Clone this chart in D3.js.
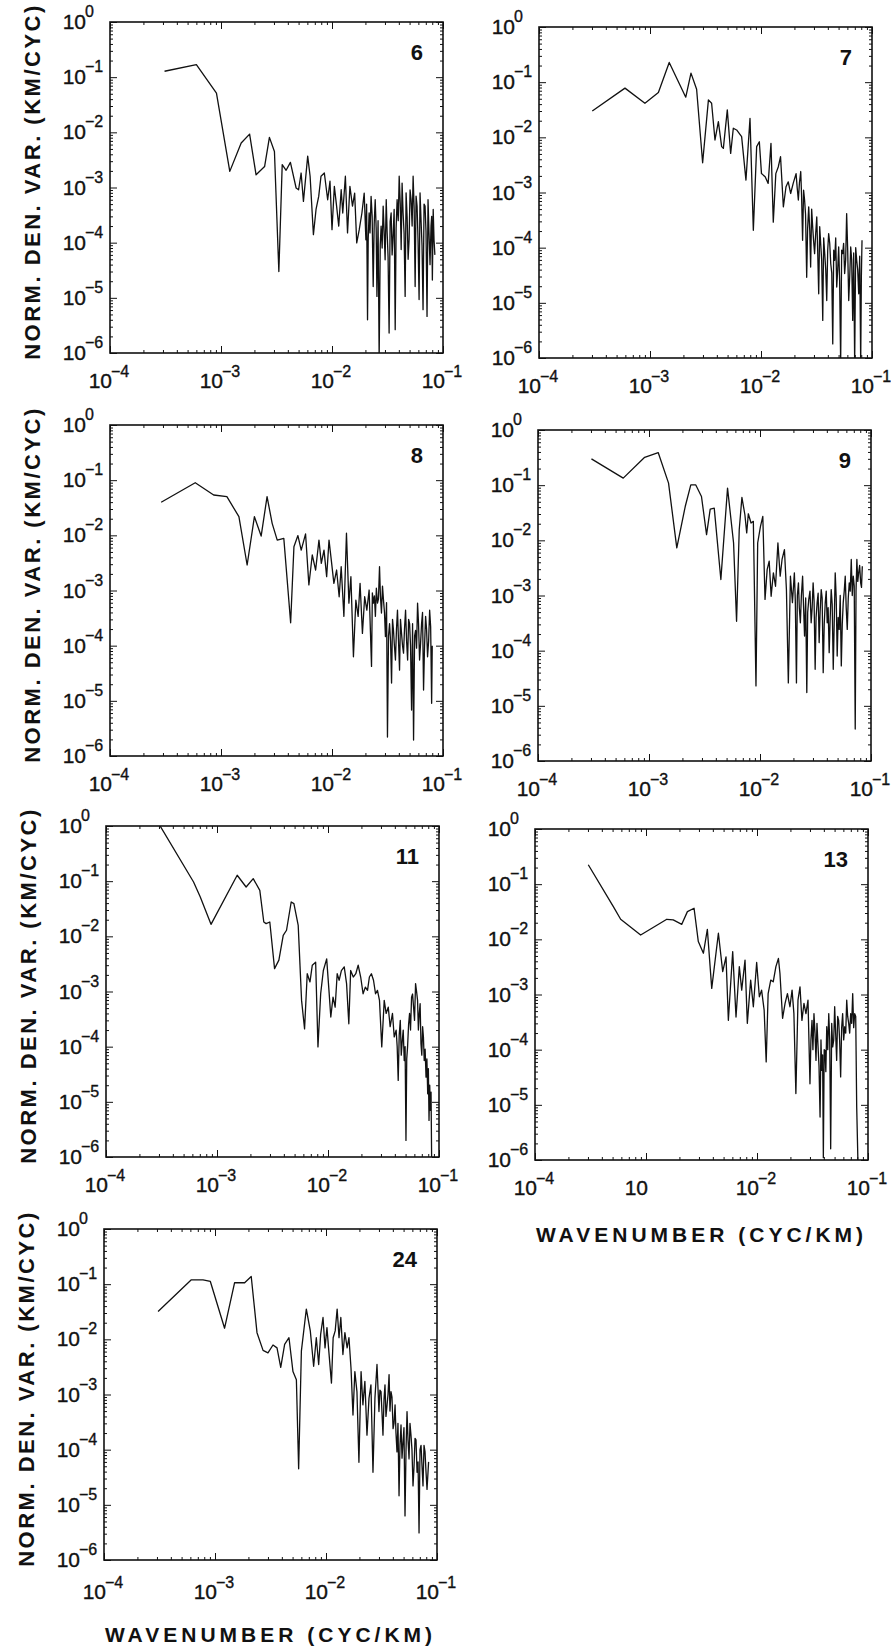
<!DOCTYPE html>
<html>
<head>
<meta charset="utf-8">
<script src="https://cdnjs.cloudflare.com/ajax/libs/d3/7.8.5/d3.min.js"></script>
<style>
  body { margin: 0; background: #fff; }
  text { font-family: "Liberation Sans", Arial, Helvetica, sans-serif; fill: #111; }
  .ticklab { stroke: #111; stroke-width: 0.35px; }
</style>
</head>
<body>
<div id="chart"></div>
<script>
// spectra: [wavenumber (cyc/km), normalised density variance]
// second line of each array = extra points read from the dense high-wavenumber band
var spec6 = [[3.1e-4,0.128],[6.0e-4,0.169],[9.1e-4,0.0516],[1.2e-3,1.96e-3],[1.52e-3,6.4e-3],[1.81e-3,9.3e-3],[2.07e-3,1.7e-3],[2.47e-3,2.4e-3],[2.73e-3,8.1e-3],[3.03e-3,4.5e-3],[3.32e-3,3.0e-5],[3.56e-3,2.6e-3],[3.86e-3,2.05e-3],[4.22e-3,2.86e-3],[4.75e-3,9.8e-4],[5.0e-3,9.1e-4],[5.27e-3,1.83e-3],[5.53e-3,5.6e-4],[6.04e-3,3.7e-3],[6.35e-3,1.6e-3],[6.8e-3,1.4e-4],[7.18e-3,4.0e-4],[7.59e-3,6.9e-4],[7.96e-3,1.6e-3],[8.53e-3,1.83e-3],[9.14e-3,6.0e-4],[9.59e-3,1.3e-3],[1.0e-2,1.72e-4],[1.05e-2,1.05e-3],[1.10e-2,4.6e-4],[1.15e-2,2.0e-4],[1.21e-2,9.1e-4],[1.25e-2,3.45e-4],[1.32e-2,1.6e-3],[1.38e-2,1.5e-4],[1.45e-2,1.05e-3],[1.53e-2,4.6e-4],[1.60e-2,7.9e-4],[1.67e-2,9.9e-5],[1.76e-2,1.72e-4],[1.86e-2,3.45e-4],[1.95e-2,7.9e-4],[2.02e-2,1.13e-4],[2.09e-2,4.0e-6],[2.16e-2,3.45e-4],[2.25e-2,6.9e-4],[2.35e-2,1.6e-5],[2.45e-2,6.0e-4],[2.54e-2,1.06e-5],[2.66e-2,8e-7],[2.77e-2,2.0e-4],[2.89e-2,4.6e-4],[3.01e-2,4.9e-5],[3.14e-2,1.5e-4],[3.27e-2,2.3e-6],[3.41e-2,3.45e-4],[3.56e-2,1.5e-4],[3.71e-2,2.65e-6],[3.86e-2,6.0e-4],[4.03e-2,1.6e-3],[4.20e-2,7.5e-5],[4.37e-2,3.45e-4],[4.56e-2,1.06e-5],[4.75e-2,3.0e-4],[4.95e-2,1.13e-4],[5.16e-2,6.0e-4],[5.38e-2,1.6e-3],[5.61e-2,1.6e-5],[5.84e-2,4.6e-4],[6.09e-2,9.3e-6],[6.34e-2,2.6e-4],[6.61e-2,6.1e-6],[6.89e-2,4.6e-4],[7.18e-2,4.6e-6],[7.48e-2,1.5e-4],[7.80e-2,2.0e-4],[8.02e-2,2.1e-5],[8.30e-2,1.13e-4],
  [2.05e-2,5.0e-4],[2.12e-2,1.2e-4],[2.20e-2,1.5e-4],[2.30e-2,3.0e-4],[2.40e-2,2.2e-4],[2.50e-2,1.8e-4],[2.60e-2,2.5e-4],[2.72e-2,9.0e-5],[2.83e-2,8.0e-5],[2.95e-2,1.6e-4],[3.08e-2,6.0e-4],[3.20e-2,5.5e-5],[3.34e-2,2.4e-4],[3.48e-2,6.0e-5],[3.63e-2,4.0e-4],[3.78e-2,1.8e-4],[3.95e-2,2.5e-4],[4.12e-2,5.0e-4],[4.28e-2,1.2e-3],[4.46e-2,1.5e-4],[4.65e-2,8.0e-4],[4.85e-2,5.0e-5],[5.05e-2,9.0e-4],[5.27e-2,2.0e-4],[5.50e-2,4.0e-4],[5.72e-2,7.0e-4],[5.96e-2,1.1e-4],[6.21e-2,8.0e-4],[6.47e-2,9.0e-5],[6.75e-2,5.0e-4],[7.03e-2,1.6e-4],[7.33e-2,6.0e-4],[7.64e-2,4.0e-5],[7.91e-2,3.0e-4],[8.16e-2,4.0e-4],[8.45e-2,6.0e-5]];

var spec7 = [[3.02e-4,0.030],[5.95e-4,0.078],[9.0e-4,0.0415],[1.19e-3,0.065],[1.49e-3,0.228],[2.10e-3,0.0534],[2.34e-3,0.146],[2.63e-3,0.0746],[2.98e-3,3.46e-3],[3.36e-3,0.0477],[3.59e-3,0.0415],[3.85e-3,8.95e-3],[4.13e-3,0.0193],[4.42e-3,6.8e-3],[4.58e-3,6.3e-3],[4.97e-3,0.0314],[5.33e-3,5.1e-3],[5.63e-3,0.0146],[6.03e-3,0.0136],[6.69e-3,0.0103],[7.32e-3,1.68e-3],[7.96e-3,0.0221],[8.53e-3,2.07e-4],[9.14e-3,6.8e-3],[9.66e-3,8.3e-3],[1.01e-2,2.2e-3],[1.09e-2,1.93e-3],[1.16e-2,1.46e-3],[1.23e-2,7.8e-3],[1.29e-2,2.9e-4],[1.36e-2,2.2e-3],[1.43e-2,2.9e-3],[1.50e-2,4.45e-3],[1.59e-2,5.5e-4],[1.68e-2,1.27e-3],[1.76e-2,1.56e-3],[1.85e-2,9.6e-4],[1.95e-2,1.46e-3],[2.07e-2,2.2e-3],[2.17e-2,7.3e-4],[2.28e-2,2.4e-3],[2.37e-2,1.36e-4],[2.47e-2,7.3e-4],[2.58e-2,2.9e-5],[2.69e-2,5.5e-4],[2.80e-2,4.45e-5],[2.92e-2,2.4e-4],[3.04e-2,7.8e-5],[3.18e-2,3.6e-4],[3.31e-2,1.46e-5],[3.45e-2,1.18e-4],[3.60e-2,4.8e-6],[3.75e-2,7.8e-5],[3.91e-2,1.1e-5],[4.07e-2,1.8e-4],[4.25e-2,5.1e-5],[4.43e-2,1.8e-6],[4.61e-2,5.9e-5],[4.81e-2,1.93e-5],[5.01e-2,1.03e-4],[5.22e-2,8e-7],[5.44e-2,7.8e-5],[5.67e-2,3.4e-5],[5.91e-2,4.15e-4],[6.17e-2,1.1e-5],[6.43e-2,1.03e-4],[6.70e-2,4.8e-6],[6.98e-2,8e-7],[7.28e-2,5.9e-5],[7.59e-2,1.46e-5],[7.91e-2,8e-7],[8.13e-2,1.36e-4],
  [2.12e-2,1.2e-3],[2.22e-2,1.5e-3],[2.32e-2,9.0e-4],[2.42e-2,1.1e-3],[2.52e-2,4.0e-4],[2.63e-2,2.2e-4],[2.75e-2,2.0e-4],[2.86e-2,5.0e-4],[2.98e-2,1.3e-4],[3.11e-2,1.8e-4],[3.24e-2,9.0e-5],[3.38e-2,2.4e-4],[3.52e-2,6.0e-5],[3.67e-2,1.5e-4],[3.83e-2,4.0e-5],[3.99e-2,9.0e-5],[4.16e-2,1.2e-4],[4.34e-2,3.5e-5],[4.52e-2,9.0e-5],[4.71e-2,1.5e-4],[4.91e-2,4.0e-5],[5.11e-2,2.5e-5],[5.33e-2,9.0e-5],[5.55e-2,1.2e-4],[5.79e-2,6.0e-5],[6.04e-2,9.0e-5],[6.30e-2,3.0e-5],[6.56e-2,6.0e-5],[6.84e-2,8.0e-5],[7.13e-2,1.0e-4],[7.43e-2,4.0e-5],[7.75e-2,7.0e-5],[8.02e-2,3.0e-5]];

var spec8 = [[2.89e-4,0.0397],[5.86e-4,0.090],[8.59e-4,0.0538],[1.13e-3,0.0502],[1.45e-3,0.0218],[1.72e-3,2.9e-3],[2.0e-3,0.0218],[2.30e-3,9.7e-3],[2.60e-3,0.0502],[2.89e-3,0.0165],[3.21e-3,8.2e-3],[3.68e-3,8.8e-3],[4.24e-3,2.6e-4],[4.54e-3,6.2e-3],[4.93e-3,9.9e-3],[5.28e-3,5.4e-3],[5.78e-3,0.0106],[6.19e-3,1.26e-3],[6.64e-3,4.4e-3],[7.12e-3,2.35e-3],[7.63e-3,8.2e-3],[8.01e-3,3.1e-3],[8.47e-3,5.4e-3],[8.95e-3,1.78e-3],[9.4e-3,8.2e-3],[9.93e-3,3.1e-3],[1.04e-2,1.35e-3],[1.10e-2,2.35e-3],[1.16e-2,7.7e-4],[1.21e-2,2.7e-3],[1.28e-2,3.4e-4],[1.35e-2,0.0109],[1.42e-2,5.9e-4],[1.48e-2,1.78e-3],[1.56e-2,6.3e-5],[1.64e-2,6.7e-4],[1.72e-2,3.4e-4],[1.79e-2,1.35e-3],[1.88e-2,1.67e-4],[1.97e-2,7.7e-4],[2.06e-2,4.4e-4],[2.16e-2,1.02e-3],[2.27e-2,4.2e-5],[2.36e-2,5.9e-4],[2.46e-2,3.4e-4],[2.57e-2,5.9e-4],[2.68e-2,2.7e-3],[2.79e-2,3.9e-4],[2.91e-2,6.7e-4],[3.03e-2,1.46e-4],[3.16e-2,2.2e-6],[3.30e-2,2.5e-4],[3.44e-2,2.1e-5],[3.58e-2,1.9e-4],[3.73e-2,5.5e-5],[3.89e-2,4.4e-4],[4.06e-2,3.6e-5],[4.23e-2,1.67e-4],[4.41e-2,7.3e-5],[4.60e-2,4.4e-4],[4.80e-2,5.5e-5],[5.0e-2,2.5e-4],[5.21e-2,6.8e-6],[5.43e-2,1.95e-6],[5.66e-2,1.9e-4],[5.90e-2,5.9e-4],[6.15e-2,5.5e-5],[6.41e-2,2.5e-4],[6.68e-2,1.57e-5],[6.97e-2,3.4e-4],[7.26e-2,6.3e-5],[7.58e-2,4.4e-4],[7.90e-2,9.0e-6],
  [2.31e-2,9.0e-4],[2.41e-2,8.0e-4],[2.51e-2,1.1e-3],[2.62e-2,7.0e-4],[2.73e-2,8.0e-4],[2.85e-2,1.2e-3],[2.97e-2,4.0e-4],[3.10e-2,6.0e-4],[3.23e-2,1.5e-4],[3.37e-2,1.2e-4],[3.51e-2,3.0e-4],[3.65e-2,1.0e-4],[3.81e-2,2.0e-4],[3.97e-2,1.3e-4],[4.14e-2,3.0e-4],[4.32e-2,1.0e-4],[4.50e-2,2.0e-4],[4.70e-2,1.2e-4],[4.90e-2,3.0e-4],[5.10e-2,1.0e-4],[5.32e-2,2.5e-4],[5.55e-2,1.5e-4],[5.78e-2,9.0e-5],[6.02e-2,2.5e-4],[6.28e-2,1.1e-4],[6.54e-2,4.0e-4],[6.82e-2,1.0e-4],[7.11e-2,2.0e-4],[7.42e-2,1.2e-4],[7.74e-2,2.2e-4],[8.0e-2,1.0e-4]];

var spec9 = [[3.03e-4,0.30],[5.86e-4,0.134],[9.14e-4,0.32],[1.21e-3,0.39],[1.50e-3,0.109],[1.78e-3,7.3e-3],[2.12e-3,0.041],[2.38e-3,0.101],[2.64e-3,0.101],[2.97e-3,0.0624],[3.30e-3,0.0127],[3.56e-3,0.0368],[3.87e-3,0.0384],[4.44e-3,1.95e-3],[5.10e-3,0.0883],[5.78e-3,8.95e-3],[6.15e-3,3.4e-4],[6.50e-3,0.0156],[6.87e-3,0.0598],[7.31e-3,0.0291],[7.59e-3,0.0136],[7.85e-3,0.0303],[8.30e-3,0.0206],[8.71e-3,0.0221],[9.20e-3,2.3e-5],[9.53e-3,8.95e-3],[1.01e-2,0.0179],[1.06e-2,0.0271],[1.11e-2,8.5e-4],[1.16e-2,2.95e-3],[1.21e-2,4.2e-3],[1.26e-2,9.7e-4],[1.32e-2,2.57e-3],[1.38e-2,1.47e-3],[1.45e-2,8.95e-3],[1.52e-2,2.24e-3],[1.58e-2,4.5e-3],[1.66e-2,6.8e-3],[1.73e-2,1.28e-3],[1.80e-2,2.6e-5],[1.88e-2,2.24e-3],[1.96e-2,7.4e-4],[2.04e-2,2.57e-3],[2.13e-2,2.6e-5],[2.22e-2,1.7e-3],[2.31e-2,3.2e-4],[2.42e-2,2.24e-3],[2.52e-2,1.84e-4],[2.64e-2,1.74e-5],[2.75e-2,8.5e-4],[2.89e-2,3.2e-4],[3.01e-2,1.7e-3],[3.14e-2,4.6e-5],[3.27e-2,7.4e-4],[3.41e-2,1.4e-4],[3.56e-2,1.28e-3],[3.71e-2,4.0e-5],[3.87e-2,7.4e-4],[4.03e-2,3.2e-4],[4.20e-2,9.2e-5],[4.38e-2,1.28e-3],[4.57e-2,4.6e-5],[4.76e-2,2.57e-3],[4.96e-2,8.0e-5],[5.17e-2,2.43e-4],[5.40e-2,5.3e-5],[5.62e-2,7.4e-4],[5.86e-2,2.24e-3],[6.11e-2,2.43e-4],[6.37e-2,1.7e-3],[6.64e-2,4.5e-3],[6.92e-2,2.24e-3],[7.21e-2,3.8e-6],[7.46e-2,4.5e-3],[7.74e-2,2.57e-3],[8.07e-2,1.7e-3],[8.35e-2,3.4e-3],
  [2.08e-2,8.0e-4],[2.17e-2,1.0e-3],[2.26e-2,6.0e-4],[2.36e-2,1.0e-3],[2.47e-2,6.0e-4],[2.58e-2,9.0e-4],[2.69e-2,5.0e-4],[2.82e-2,1.2e-3],[2.95e-2,6.0e-4],[3.07e-2,8.0e-4],[3.20e-2,4.0e-4],[3.34e-2,1.1e-3],[3.48e-2,5.0e-4],[3.63e-2,9.0e-4],[3.79e-2,3.0e-4],[3.95e-2,1.2e-3],[4.11e-2,6.0e-4],[4.29e-2,4.0e-4],[4.47e-2,7.0e-4],[4.66e-2,3.0e-4],[4.86e-2,9.0e-4],[5.06e-2,4.0e-4],[5.28e-2,1.0e-3],[5.51e-2,3.0e-4],[5.74e-2,1.2e-3],[5.98e-2,6.0e-4],[6.24e-2,9.0e-4],[6.50e-2,1.2e-3],[6.78e-2,1.0e-3],[7.06e-2,1.5e-3],[7.33e-2,1.2e-3],[7.60e-2,1.8e-3],[7.90e-2,3.5e-3],[8.21e-2,1.4e-3]];

var spec11 = [[3.03e-4,1.05],[6.15e-4,0.0966],[7.07e-4,0.0516],[8.83e-4,0.0165],[1.52e-3,0.128],[1.83e-3,0.0784],[2.12e-3,0.111],[2.43e-3,0.0682],[2.64e-3,0.0182],[2.77e-3,0.0170],[2.99e-3,0.0182],[3.30e-3,2.6e-3],[3.61e-3,3.7e-3],[3.95e-3,0.0104],[4.23e-3,0.0129],[4.66e-3,0.0419],[4.93e-3,0.0391],[5.39e-3,0.0158],[5.78e-3,6.9e-4],[6.15e-3,2.1e-4],[6.50e-3,2.1e-3],[6.88e-3,1.49e-3],[7.22e-3,3.0e-3],[7.74e-3,3.4e-3],[8.12e-3,9.9e-5],[8.59e-3,9.1e-4],[9.08e-3,2.4e-3],[9.73e-3,3.9e-3],[1.02e-2,1.05e-3],[1.06e-2,3.45e-4],[1.11e-2,7.9e-4],[1.16e-2,5.2e-4],[1.21e-2,2.1e-3],[1.26e-2,1.6e-3],[1.32e-2,2.4e-3],[1.40e-2,2.8e-3],[1.47e-2,1.39e-3],[1.54e-2,2.6e-4],[1.60e-2,2.4e-3],[1.69e-2,1.83e-3],[1.78e-2,2.1e-3],[1.87e-2,3.0e-3],[1.97e-2,1.83e-3],[2.07e-2,9.1e-4],[2.17e-2,1.2e-3],[2.27e-2,1.05e-3],[2.36e-2,1.83e-3],[2.46e-2,2.1e-3],[2.57e-2,1.6e-3],[2.68e-2,9.1e-4],[2.79e-2,1.05e-3],[2.91e-2,6.9e-4],[3.05e-2,9.9e-5],[3.21e-2,6.9e-4],[3.34e-2,4.0e-4],[3.49e-2,5.2e-4],[3.63e-2,2.3e-4],[3.81e-2,4.0e-4],[3.95e-2,1.5e-4],[4.11e-2,2.0e-4],[4.29e-2,2.45e-5],[4.48e-2,3.0e-4],[4.67e-2,1.3e-4],[4.86e-2,5.6e-5],[5.04e-2,2.0e-6],[5.21e-2,9.9e-5],[5.43e-2,4.0e-4],[5.66e-2,7.9e-4],[5.90e-2,5.2e-4],[6.15e-2,1.39e-3],[6.41e-2,6.9e-4],[6.64e-2,4.0e-4],[6.88e-2,1.13e-4],[7.12e-2,2.3e-4],[7.36e-2,5.6e-5],[7.64e-2,2.8e-5],[7.91e-2,1.4e-5],[8.13e-2,4.6e-6],[8.36e-2,7.0e-6],[8.59e-2,8e-7],
  [4.20e-2,1.0e-4],[4.38e-2,1.6e-4],[4.57e-2,7.0e-5],[4.76e-2,2.0e-4],[4.95e-2,1.0e-4],[5.12e-2,6.0e-5],[5.32e-2,2.5e-4],[5.54e-2,2.0e-4],[5.78e-2,9.0e-4],[6.02e-2,3.0e-4],[6.28e-2,1.0e-3],[6.52e-2,2.0e-4],[6.76e-2,6.0e-4],[7.00e-2,7.0e-5],[7.24e-2,1.5e-4],[7.50e-2,9.0e-5],[7.78e-2,6.0e-5],[8.02e-2,4.0e-5],[8.25e-2,2.0e-5],[8.48e-2,1.5e-5]];

var spec13 = [[3.02e-4,0.225],[5.08e-4,0.0393],[5.91e-4,0.0231],[8.95e-4,0.012],[1.54e-3,0.0231],[1.76e-3,0.0225],[2.10e-3,0.0187],[2.36e-3,0.0318],[2.71e-3,0.0366],[2.96e-3,9.1e-3],[3.29e-3,5.6e-3],[3.57e-3,0.0152],[3.91e-3,1.29e-3],[4.49e-3,0.0129],[4.91e-3,2.6e-3],[5.26e-3,4.8e-3],[5.52e-3,3.4e-4],[6.04e-3,6.0e-3],[6.47e-3,3.9e-4],[6.93e-3,3.2e-3],[7.28e-3,1.2e-3],[7.80e-3,4.2e-3],[8.18e-3,3.0e-4],[8.77e-3,1.82e-3],[9.27e-3,6.0e-4],[9.93e-3,3.8e-3],[1.05e-2,9.1e-4],[1.10e-2,1.2e-3],[1.16e-2,5.2e-4],[1.21e-2,6.0e-5],[1.26e-2,1.04e-3],[1.33e-2,1.82e-3],[1.40e-2,1.7e-3],[1.48e-2,3.2e-3],[1.56e-2,4.5e-3],[1.61e-2,2.4e-3],[1.70e-2,3.7e-4],[1.79e-2,6.9e-4],[1.88e-2,1.04e-3],[1.98e-2,6.0e-4],[2.07e-2,1.2e-3],[2.15e-2,4.5e-4],[2.24e-2,1.6e-5],[2.34e-2,7.9e-4],[2.44e-2,1.38e-3],[2.54e-2,3.4e-4],[2.65e-2,6.9e-4],[2.76e-2,4.5e-4],[2.88e-2,7.9e-4],[3.0e-2,2.4e-5],[3.13e-2,3.4e-4],[3.26e-2,4.5e-4],[3.40e-2,6.4e-5],[3.55e-2,1.12e-4],[3.70e-2,6.0e-6],[3.83e-2,4.2e-5],[3.96e-2,1.1e-6],[4.10e-2,9.7e-5],[4.25e-2,2.6e-4],[4.43e-2,4.5e-4],[4.61e-2,1.6e-6],[4.81e-2,1.12e-4],[5.01e-2,6.0e-4],[5.22e-2,6.4e-5],[5.44e-2,3.4e-4],[5.67e-2,3.2e-5],[5.91e-2,4.5e-4],[6.17e-2,2.6e-4],[6.43e-2,7.9e-4],[6.70e-2,3.0e-4],[6.98e-2,4.5e-4],[7.28e-2,1.04e-3],[7.59e-2,4.5e-4],[7.91e-2,9.1e-6],[8.13e-2,8e-7],
  [3.06e-2,1.5e-4],[3.19e-2,1.0e-4],[3.33e-2,2.0e-4],[3.47e-2,3.0e-4],[3.62e-2,5.0e-5],[3.77e-2,1.5e-4],[3.90e-2,8.0e-5],[4.03e-2,1.0e-4],[4.17e-2,4.0e-5],[4.34e-2,1.0e-4],[4.52e-2,1.5e-4],[4.71e-2,3.0e-4],[4.91e-2,1.5e-4],[5.11e-2,2.0e-4],[5.33e-2,4.0e-4],[5.55e-2,1.5e-4],[5.79e-2,2.5e-4],[6.04e-2,1.5e-4],[6.30e-2,2.0e-4],[6.56e-2,4.0e-4],[6.84e-2,2.0e-4],[7.13e-2,3.0e-4],[7.43e-2,2.5e-4],[7.75e-2,4.0e-4]];

var spec24 = [[3.07e-4,0.032],[6.12e-4,0.12],[7.80e-4,0.12],[9.08e-4,0.112],[1.22e-3,0.0159],[1.50e-3,0.106],[1.85e-3,0.106],[2.12e-3,0.138],[2.39e-3,0.0132],[2.71e-3,6.3e-3],[3.0e-3,5.7e-3],[3.33e-3,7.9e-3],[3.62e-3,7.0e-3],[3.91e-3,3.1e-3],[4.24e-3,8.1e-3],[4.64e-3,0.0107],[5.04e-3,2.6e-3],[5.41e-3,1.85e-3],[5.67e-3,4.5e-5],[6.0e-3,6.1e-3],[6.65e-3,0.0354],[7.22e-3,0.0142],[7.74e-3,3.25e-3],[8.18e-3,0.0107],[8.59e-3,3.5e-3],[8.95e-3,0.0123],[9.4e-3,0.0249],[9.8e-3,7.0e-3],[1.02e-2,0.0163],[1.06e-2,6.1e-3],[1.12e-2,1.61e-3],[1.16e-2,0.0107],[1.21e-2,0.0142],[1.26e-2,0.0354],[1.31e-2,0.0107],[1.36e-2,0.0249],[1.42e-2,5.3e-3],[1.48e-2,0.0132],[1.55e-2,7.0e-3],[1.61e-2,0.0107],[1.68e-2,3.0e-3],[1.75e-2,4.25e-4],[1.82e-2,2.6e-3],[1.90e-2,1.13e-3],[1.98e-2,5.9e-5],[2.07e-2,2.6e-3],[2.15e-2,6.5e-4],[2.24e-2,1.73e-3],[2.34e-2,1.83e-4],[2.44e-2,8.6e-4],[2.54e-2,1.5e-3],[2.65e-2,3.9e-5],[2.76e-2,8.6e-4],[2.88e-2,3.5e-3],[3.0e-2,4.9e-4],[3.13e-2,1.13e-3],[3.26e-2,1.83e-4],[3.40e-2,1.5e-3],[3.55e-2,6.5e-4],[3.70e-2,2.3e-3],[3.85e-2,1.13e-3],[4.02e-2,2.4e-4],[4.19e-2,6.5e-4],[4.36e-2,9.1e-5],[4.55e-2,1.46e-5],[4.74e-2,2.8e-4],[4.94e-2,1.38e-4],[5.15e-2,6.3e-6],[5.37e-2,4.9e-4],[5.60e-2,6.8e-5],[5.83e-2,1.83e-4],[6.08e-2,2.2e-5],[6.34e-2,1.6e-4],[6.61e-2,3.9e-5],[6.89e-2,3.1e-6],[7.18e-2,1.2e-4],[7.48e-2,2.2e-5],[7.80e-2,9.1e-5],[8.13e-2,1.9e-5],
  [3.06e-2,1.2e-3],[3.19e-2,5.0e-4],[3.33e-2,8.0e-4],[3.47e-2,4.0e-4],[3.62e-2,1.0e-3],[3.77e-2,5.0e-4],[3.93e-2,9.0e-4],[4.10e-2,3.0e-4],[4.27e-2,2.0e-4],[4.45e-2,3.0e-4],[4.64e-2,1.2e-4],[4.84e-2,7.0e-5],[5.04e-2,2.5e-4],[5.26e-2,1.0e-4],[5.48e-2,1.5e-4],[5.71e-2,3.0e-4],[5.95e-2,1.0e-4],[6.21e-2,5.0e-5],[6.47e-2,1.5e-4],[6.75e-2,6.0e-5],[7.03e-2,1.0e-4],[7.33e-2,5.0e-5],[7.64e-2,1.2e-4],[7.96e-2,4.0e-5],[8.40e-2,6.0e-5]];

var panelNames = ["6", "7", "8", "9", "11", "13", "24"];
var panelData = [spec6, spec7, spec8, spec9, spec11, spec13, spec24];

var xTickValues = [1e-4, 1e-3, 1e-2, 1e-1];
var xTickExps = ["\u22124", "\u22123", "\u22122", "\u22121"];
var xTickExps13 = ["\u22124", "", "\u22122", "\u22121"];   // the original prints a plain "10" here
var yTickValues = [1, 1e-1, 1e-2, 1e-3, 1e-4, 1e-5, 1e-6];
var yTickExps = ["0", "\u22121", "\u22122", "\u22123", "\u22124", "\u22125", "\u22126"];

var yTitle = "NORM. DEN. VAR. (KM/CYC)";
var xTitle = "WAVENUMBER (CYC/KM)";

// where each frame sits on the page (the scan is slightly skewed)
var layout = [
  {left: 110, top: 22,   ytitle: true,  xtitle: false, lab: 35},
  {left: 539, top: 27,   ytitle: false, xtitle: false, lab: 35},
  {left: 110, top: 425,  ytitle: true,  xtitle: false, lab: 35},
  {left: 538, top: 430,  ytitle: false, xtitle: false, lab: 35},
  {left: 106, top: 826,  ytitle: true,  xtitle: false, lab: 35},
  {left: 535, top: 829,  ytitle: false, xtitle: true,  lab: 35},
  {left: 104, top: 1229, ytitle: true,  xtitle: true,  lab: 39}
];

var width = 891, height = 1649;
var pw = 333, ph = 331;

var svg = d3.select("#chart")
            .append("svg")
            .attr("width", width)
            .attr("height", height);

function isDecade(v) {
  var l = Math.log10(v);
  return Math.abs(l - Math.round(l)) < 1e-6;
}

function stripDomain(sel) {
  sel.select(".domain").remove();
  sel.selectAll(".tick line").attr("stroke", "#111").attr("stroke-width", 1);
}

panelData.forEach(function(data, i) {
  var lay = layout[i];
  var name = panelNames[i];
  var pts = data.slice().sort(function(a, b) { return a[0] - b[0]; });
  var g = svg.append("g")
             .attr("transform", "translate(" + lay.left + "," + lay.top + ")");

  var x = d3.scaleLog().domain([1e-4, 1e-1]).range([0, pw]);
  var y = d3.scaleLog().domain([1e-6, 1]).range([ph, 0]);

  var xMinor = x.ticks().filter(function(v) { return !isDecade(v); });
  var yMinor = y.ticks().filter(function(v) { return !isDecade(v); });

  // inward ticks on all four sides
  [[xMinor, 3], [xTickValues, 7]].forEach(function(t) {
    g.append("g").attr("transform", "translate(0," + ph + ")")
     .call(d3.axisBottom(x).tickValues(t[0]).tickSize(-t[1]).tickFormat(""))
     .call(stripDomain);
    g.append("g")
     .call(d3.axisTop(x).tickValues(t[0]).tickSize(-t[1]).tickFormat(""))
     .call(stripDomain);
  });
  [[yMinor, 3], [yTickValues, 7]].forEach(function(t) {
    g.append("g")
     .call(d3.axisLeft(y).tickValues(t[0]).tickSize(-t[1]).tickFormat(""))
     .call(stripDomain);
    g.append("g").attr("transform", "translate(" + pw + ",0)")
     .call(d3.axisRight(y).tickValues(t[0]).tickSize(-t[1]).tickFormat(""))
     .call(stripDomain);
  });

  g.append("clipPath")
   .attr("id", "clip" + name)
   .append("rect")
   .attr("width", pw)
   .attr("height", ph);

  var line = d3.line()
               .x(function(d) { return x(d[0]); })
               .y(function(d) { return y(d[1]); });

  g.append("path")
   .datum(pts)
   .attr("clip-path", "url(#clip" + name + ")")
   .attr("d", line)
   .attr("fill", "none")
   .attr("stroke", "#111")
   .attr("stroke-width", 1.3)
   .attr("stroke-linejoin", "round");

  g.append("rect")
   .attr("width", pw)
   .attr("height", ph)
   .attr("fill", "none")
   .attr("stroke", "#111")
   .attr("stroke-width", 1.6);

  // x tick labels: "10" ends at the tick, exponent raised just after it
  var exps = name == "13" ? xTickExps13 : xTickExps;
  xTickValues.forEach(function(v, j) {
    g.append("text")
     .attr("class", "ticklab")
     .attr("x", x(v) + 2)
     .attr("y", ph + lay.lab)
     .attr("text-anchor", "end")
     .style("font-size", "21px")
     .text("10");
    if (exps[j]) {
      g.append("text")
       .attr("class", "ticklab")
       .attr("x", x(v) + 1)
       .attr("y", ph + lay.lab - 11)
       .style("font-size", "16px")
       .text(exps[j]);
    }
  });

  // y tick labels
  yTickValues.forEach(function(v, j) {
    g.append("text")
     .attr("class", "ticklab")
     .attr("x", -24)
     .attr("y", y(v) + 7)
     .attr("text-anchor", "end")
     .style("font-size", "21px")
     .text("10");
    g.append("text")
     .attr("class", "ticklab")
     .attr("x", -25)
     .attr("y", y(v) - 5)
     .style("font-size", "16px")
     .text(yTickExps[j]);
  });

  g.append("text")
   .attr("x", pw - 20)
   .attr("y", 38)
   .attr("text-anchor", "end")
   .style("font-size", "22px")
   .style("font-weight", "bold")
   .text(name);

  if (lay.ytitle) {
    g.append("text")
     .attr("transform", "translate(" + (-70) + "," + (ph / 2 - 6) + ") rotate(-90)")
     .attr("text-anchor", "middle")
     .style("font-size", "22px")
     .style("font-weight", "bold")
     .style("letter-spacing", "2.5px")
     .text(yTitle);
  }
  if (lay.xtitle) {
    g.append("text")
     .attr("x", pw / 2)
     .attr("y", ph + 82)
     .attr("text-anchor", "middle")
     .style("font-size", "21px")
     .style("font-weight", "bold")
     .style("letter-spacing", "4px")
     .text(xTitle);
  }
});
</script>
</body>
</html>
